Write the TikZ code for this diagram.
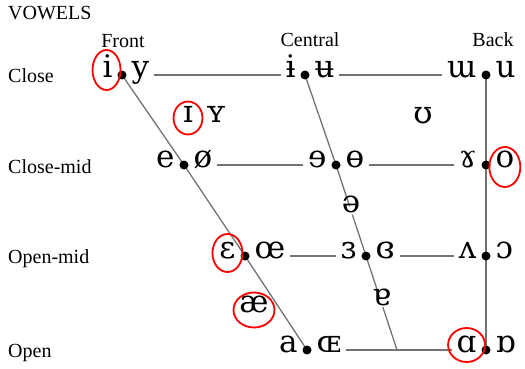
\documentclass[tikz,border=0pt]{standalone}
\usepackage{fontspec}
\setmainfont{Liberation Serif}
\newfontfamily\ipafont{DejaVu Serif}
\usetikzlibrary{positioning,calc,backgrounds}
\tikzset{
  vowel/.style={font=\ipafont\fontsize{31}{31}\selectfont, inner xsep=5pt, inner ysep=0pt, outer sep=0pt, text height=0.66em, text depth=0.17em},
  dotpt/.style={circle, fill=black, inner sep=0pt, minimum size=9pt, outer sep=0pt},
  rowlabel/.style={font=\fontsize{20}{20}\selectfont, anchor=base west, inner sep=0pt},
  collabel/.style={font=\fontsize{20}{20}\selectfont, anchor=base, inner sep=0pt},
  chartline/.style={draw=black!55, line width=1.3pt},
  hilite/.style={draw=red, line width=1.8pt}
}
\begin{document}
\begin{tikzpicture}[x=1pt, y=-1pt]
  \useasboundingbox (0,0) rectangle (525,369);
  % headings
  \node[rowlabel] (title) at (8,20) {VOWELS};
  \node[collabel] (front) at (123,48) {Front};
  \node[collabel] (central) at (310,47) {Central};
  \node[collabel] (back) at (493,47) {Back};
  \node[rowlabel] (close) at (8,82) {Close};
  \node[rowlabel] (closemid) at (8,173) {Close-mid};
  \node[rowlabel] (openmid) at (8,263) {Open-mid};
  \node[rowlabel] (open) at (8,357) {Open};
  % dots
  \node[dotpt] (cf) at (122,75) {};
  \node[dotpt] (cc) at (305,75) {};
  \node[dotpt] (cb) at (486,75) {};
  \node[dotpt] (cmf) at (184,165) {};
  \node[dotpt] (cmc) at (336,165) {};
  \node[dotpt] (cmb) at (486,165) {};
  \node[dotpt] (omf) at (245,256) {};
  \node[dotpt] (omc) at (366,256) {};
  \node[dotpt] (omb) at (486,256) {};
  \node[dotpt] (of) at (307,350) {};
  \node[dotpt] (ob) at (486,350) {};
  \coordinate (cbot) at (397,350);
  % vowel pairs
  \node[vowel, left=0pt of cf] (i) {i};
  \node[vowel, right=0pt of cf] (y) {y};
  \node[vowel, left=0pt of cc] (ibar) {ɨ};
  \node[vowel, right=0pt of cc] (ubar) {ʉ};
  \node[vowel, left=0pt of cb] (turnm) {ɯ};
  \node[vowel, right=0pt of cb] (u) {u};
  \node[vowel, left=0pt of cmf] (e) {e};
  \node[vowel, right=0pt of cmf] (oslash) {ø};
  \node[vowel, left=0pt of cmc] (reve) {ɘ};
  \node[vowel, right=0pt of cmc] (obar) {ɵ};
  \node[vowel, left=0pt of cmb] (ramshorn) {ɤ};
  \node[vowel, right=0pt of cmb] (o) {o};
  \node[vowel, left=0pt of omf] (eps) {ɛ};
  \node[vowel, right=0pt of omf] (oe) {œ};
  \node[vowel, left=0pt of omc] (reveps) {ɜ};
  \node[vowel, right=0pt of omc] (closedeps) {ɞ};
  \node[vowel, left=0pt of omb] (turnv) {ʌ};
  \node[vowel, right=0pt of omb] (openo) {ɔ};
  \node[vowel, left=0pt of of] (a) {a};
  \node[vowel, right=0pt of of] (OE) {ɶ};
  \node[vowel, left=0pt of ob] (alpha) {ɑ};
  \node[vowel, right=0pt of ob] (turnalpha) {ɒ};
  % vowels off the dots
  \node[vowel] (smallI) at (188,120) {ɪ};
  \node[vowel] (smallY) at (216,120) {ʏ};
  \node[vowel] (upsilon) at (423,121) {ʊ};
  \node[vowel] (schwa) at ($(cmc)!0.5!(omc)$) {ə};
  \node[vowel] (turna) at ($(omc)!0.5!(cbot)$) {ɐ};
  \node[vowel] (ash) at (254,310) {æ};
  % chart lines
  \begin{scope}[on background layer]
    \draw[chartline] (cf.center) -- (cmf.center) -- (omf.center) -- (of.center);
    \draw[chartline] (cb.center) -- (ob.center);
    \draw[chartline] (cc.center) -- (cmc.center) -- (schwa);
    \draw[chartline] (schwa) -- (omc.center) -- (turna);
    \draw[chartline] (turna) -- (cbot);
    \draw[chartline] (y) -- (ibar); \draw[chartline] (ubar) -- (turnm);
    \draw[chartline] (oslash) -- (reve); \draw[chartline] (obar) -- (ramshorn);
    \draw[chartline] (oe) -- (reveps); \draw[chartline] (closedeps) -- (turnv);
    \draw[chartline] (OE) -- (alpha);
  \end{scope}
  % red marks
  \draw[hilite] ($(i)+(-1,-5)$) ellipse [x radius=14pt, y radius=20pt];
  \draw[hilite] ($(smallI)+(0,-2)$) ellipse [x radius=14.5pt, y radius=16.5pt];
  \draw[hilite] ($(o)+(0,2)$) ellipse [x radius=15.5pt, y radius=20pt];
  \draw[hilite] ($(eps)+(0,-3)$) ellipse [x radius=15pt, y radius=19pt];
  \draw[hilite] (ash) ellipse [x radius=20.5pt, y radius=17.5pt];
  \draw[hilite] ($(alpha)+(0,-5)$) ellipse [x radius=18.5pt, y radius=17pt];
\end{tikzpicture}
\end{document}
